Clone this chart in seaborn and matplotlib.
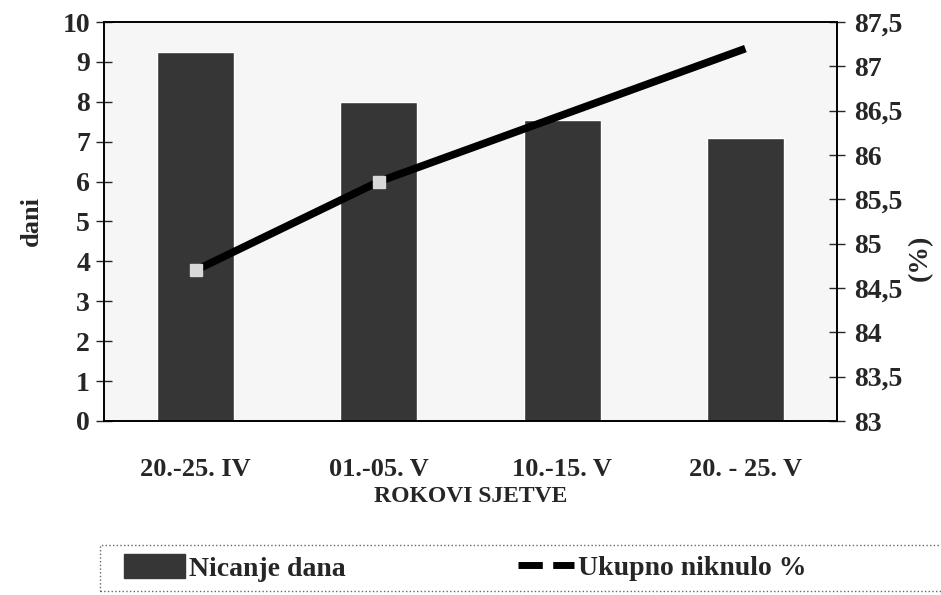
import matplotlib
matplotlib.use("Agg")
import matplotlib.pyplot as plt
import seaborn as sns
from matplotlib.patches import Patch, Rectangle
from matplotlib.lines import Line2D

# podaci s grafikona
rokovi = ['20.-25. IV', '01.-05. V', '10.-15. V', '20. - 25. V']
nicanje_dana = [9.25, 8.0, 7.55, 7.1]
ukupno_niknulo = [84.7, 85.7, 86.45, 87.2]
left_ticks = list(range(0, 11))
right_ticks = [83, 83.5, 84, 84.5, 85, 85.5, 86, 86.5, 87, 87.5]
right_labels = ['83', '83,5', '84', '84,5', '85', '85,5', '86', '86,5', '87', '87,5']

sns.set_style('white')
plt.rcParams['font.family'] = ['Liberation Serif', 'DejaVu Serif']
plt.rcParams['font.weight'] = 'bold'

bar_col = '#363636'

fig, ax = plt.subplots(figsize=(9.41, 5.95), dpi=100)
fig.subplots_adjust(left=104/941, right=837/941, top=1-22/595, bottom=1-421/595)
ax.set_facecolor('#f6f6f6')

sns.barplot(x=rokovi, y=nicanje_dana, color=bar_col, width=0.42, saturation=1, ax=ax)
ax.set_xlim(-0.5, 3.5)
ax.set_ylim(0, 10)
ax.set_yticks(left_ticks)
ax.tick_params(axis='y', direction='inout', length=12, width=1, labelsize=20, pad=4)
ax.set_xticks([0, 1, 2, 3])
ax.set_xticklabels(rokovi, fontsize=19, fontweight='bold')
ax.tick_params(axis='x', length=0, pad=27)
ax.set_xticks([0.5, 1.5, 2.5], minor=True)
ax.tick_params(axis='x', which='minor', direction='inout', length=12)
ax.set_ylabel('dani', fontsize=19, fontweight='bold', labelpad=14)
ax.set_xlabel('ROKOVI SJETVE', fontsize=17, labelpad=3, fontweight='bold')
for s in ax.spines.values():
    s.set_color('black')
    s.set_linewidth(1.2)

ax2 = ax.twinx()
ax2.plot(range(len(rokovi)), ukupno_niknulo, color='black', lw=5.5, solid_capstyle='butt',
         marker='s', markersize=9, markerfacecolor='#d8d8d8', markeredgecolor='#d8d8d8',
         markevery=[0, 1], zorder=3)
ax2.set_ylim(83, 87.5)
ax2.set_yticks(right_ticks)
ax2.set_yticklabels(right_labels)
ax2.tick_params(axis='y', direction='inout', length=12, width=1, labelsize=20, pad=6)
ax2.set_ylabel('(%)', fontsize=20, fontweight='bold')
ax2.yaxis.set_label_coords(1.097, 0.41)
for s in ax2.spines.values():
    s.set_color('black')
    s.set_linewidth(1.2)

# okvir legende
fig.patches.append(Rectangle((100/941, 1-591/595), 850/941, 46/595, transform=fig.transFigure,
                             fill=False, edgecolor='#666666', linestyle=':', linewidth=1))

leg1 = fig.legend([Patch(facecolor=bar_col, edgecolor=bar_col)], ['Nicanje dana'],
                  loc='center left', bbox_to_anchor=(124/941, 1-568/595), frameon=False,
                  fontsize=20, handlelength=2.2, handleheight=0.9, handletextpad=0.15,
                  borderaxespad=0, borderpad=0)
leg2 = fig.legend([Line2D([0], [0], color='black', lw=5, linestyle=(0, (3.5, 1.5)))],
                  ['Ukupno niknulo %'],
                  loc='center left', bbox_to_anchor=(518/941, 1-568/595), frameon=False,
                  fontsize=20, handlelength=2.0, handletextpad=0.15,
                  borderaxespad=0, borderpad=0)

plt.savefig('out.png', dpi=100)
plt.close()
